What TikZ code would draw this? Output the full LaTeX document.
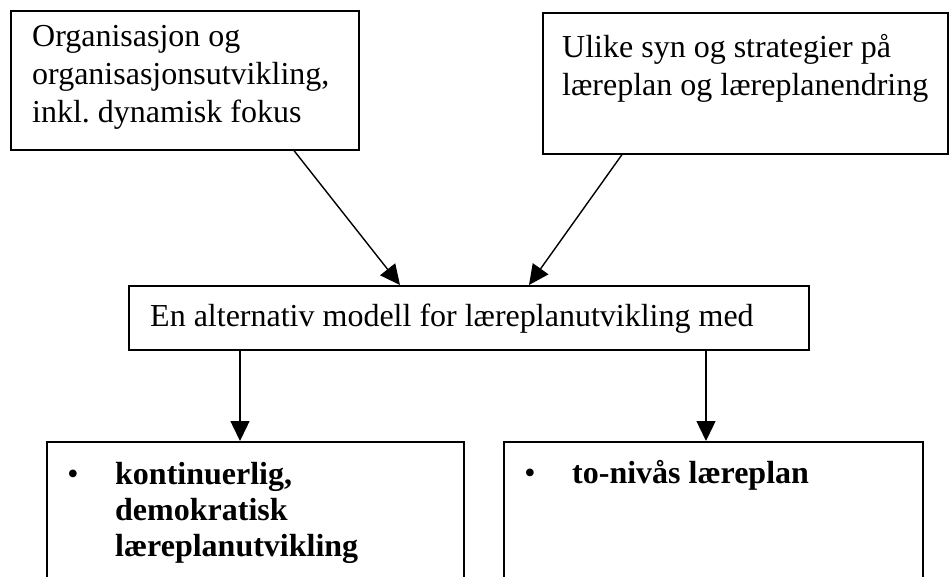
\documentclass[tikz,border=0pt]{standalone}
\usepackage{fontspec}
\setmainfont{Liberation Serif}
\usetikzlibrary{arrows.meta,calc}
\begin{document}
\begin{tikzpicture}[x=1pt,y=-1pt,
  frame/.style={draw, line width=1.6pt, rectangle, inner sep=0pt, anchor=north west},
  link/.style={line width=1.4pt, -{Triangle[length=20pt,width=19pt]}},
  plain/.style={font=\fontsize{32}{38}\selectfont, inner sep=0pt, align=left},
  item/.style={font=\fontsize{32}{36}\selectfont\bfseries, inner sep=0pt, align=left},
  dot/.style={font=\fontsize{32}{36}\selectfont, inner sep=0pt}]
\useasboundingbox (0,0) rectangle (950,576);
\clip (0,0) rectangle (950,576);

% frames
\node[frame, minimum width=348pt, minimum height=139pt] (orgbox) at (10,10) {};
\node[frame, minimum width=405pt, minimum height=141pt] (synbox) at (542,12) {};
\node[frame, minimum width=680pt, minimum height=64pt] (modelbox) at (128,285) {};
\node[frame, minimum width=417pt, minimum height=170pt] (contbox) at (46,441) {};
\node[frame, minimum width=419pt, minimum height=170pt] (twobox) at (503,441) {};

% texts
\node[plain, anchor=north west] (orgtext) at (32,25)
  {Organisasjon og\\organisasjonsutvikling,\\inkl.\ dynamisk fokus};
\node[plain, anchor=north west] (syntext) at (562,34)
  {Ulike syn og strategier på\\læreplan og læreplanendring};
\node[plain, anchor=base west] (modeltext) at (150,326)
  {En alternativ modell for læreplanutvikling med};
\node[dot, anchor=base] (contdot) at (73,484) {•};
\node[item, anchor=north west] (conttext) at (115,462)
  {kontinuerlig,\\demokratisk\\læreplanutvikling};
\node[dot, anchor=base] (twodot) at (530,483) {•};
\node[item, anchor=base west] (twotext) at (572,483) {to-nivås læreplan};

% connectors
\draw[link] ($(orgbox.south west)+(284,0)$) -- ($(modelbox.north west)+(272,0)$);
\draw[link] ($(synbox.south west)+(80,0)$) -- ($(modelbox.north west)+(401,0)$);
\draw[link] ($(modelbox.south west)+(112,0)$) -- ($(contbox.north west)+(194,0)$);
\draw[link] ($(modelbox.south west)+(578,0)$) -- ($(twobox.north west)+(203,0)$);
\end{tikzpicture}
\end{document}
